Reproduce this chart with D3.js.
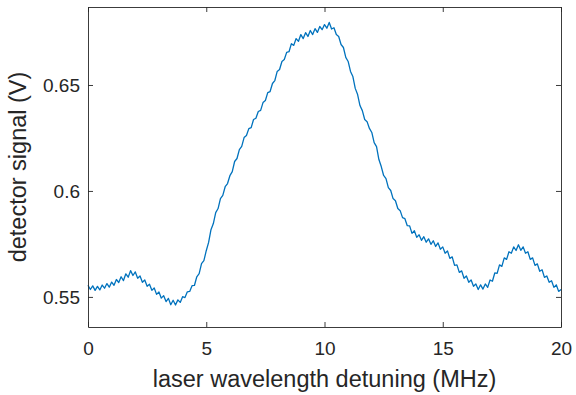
<!DOCTYPE html>
<html>
<head>
<meta charset="utf-8">
<script src="https://cdn.jsdelivr.net/npm/d3@7"></script>
<style>
  body { margin: 0; background: #fff; }
  text { font-family: "Liberation Sans", Arial, sans-serif; fill: #262626; }
</style>
</head>
<body>
<div id="chart"></div>
<script>
// detuning in MHz, sampled every 0.1 MHz from 0 to 20
var x_start = 0;
var x_step = 0.1;

// detector signal (V)
var signal = [
    0.5555,0.5535,0.5552,0.5531,0.5550,0.5533,0.5556,0.5541,0.5563,0.5546,
    0.5570,0.5555,0.5582,0.5568,0.5595,0.5577,0.5609,0.5593,0.5624,0.5601,
    0.5618,0.5588,0.5599,0.5569,0.5580,0.5550,0.5560,0.5531,0.5542,0.5512,
    0.5523,0.5494,0.5506,0.5478,0.5493,0.5463,0.5484,0.5462,0.5486,0.5474,
    0.5501,0.5497,0.5524,0.5526,0.5553,0.5554,0.5595,0.5610,0.5657,0.5671,
    0.5718,0.5757,0.5817,0.5846,0.5898,0.5917,0.5964,0.5979,0.6020,0.6035,
    0.6072,0.6091,0.6139,0.6153,0.6195,0.6210,0.6252,0.6262,0.6294,0.6299,
    0.6337,0.6343,0.6375,0.6380,0.6417,0.6427,0.6464,0.6469,0.6507,0.6521,
    0.6564,0.6573,0.6611,0.6620,0.6654,0.6657,0.6695,0.6687,0.6719,0.6706,
    0.6738,0.6719,0.6747,0.6729,0.6757,0.6738,0.6766,0.6748,0.6776,0.6761,
    0.6785,0.6768,0.6795,0.6764,0.6770,0.6738,0.6729,0.6691,0.6677,0.6630,
    0.6611,0.6564,0.6540,0.6484,0.6455,0.6403,0.6379,0.6337,0.6327,0.6295,
    0.6276,0.6228,0.6209,0.6148,0.6115,0.6073,0.6058,0.6016,0.6002,0.5964,
    0.5954,0.5917,0.5907,0.5874,0.5869,0.5836,0.5835,0.5800,0.5812,0.5781,
    0.5793,0.5767,0.5784,0.5758,0.5774,0.5748,0.5765,0.5738,0.5755,0.5725,
    0.5736,0.5706,0.5717,0.5682,0.5689,0.5649,0.5651,0.5616,0.5623,0.5588,
    0.5599,0.5569,0.5580,0.5550,0.5561,0.5535,0.5557,0.5537,0.5561,0.5545,
    0.5580,0.5574,0.5613,0.5611,0.5651,0.5644,0.5684,0.5677,0.5713,0.5706,
    0.5736,0.5719,0.5746,0.5720,0.5736,0.5706,0.5713,0.5677,0.5684,0.5649,
    0.5656,0.5621,0.5628,0.5592,0.5599,0.5569,0.5576,0.5545,0.5557,0.5526,
    0.5535
];

var x_ticks = [0, 5, 10, 15, 20];
var y_ticks = [0.55, 0.6, 0.65];
var x_domain = [0, 20];
var y_domain = [0.5358, 0.6868];

var chart_width = 576;
var chart_height = 395;
var margin = {top: 7, right: 15, bottom: 68, left: 88};
var plot_w = chart_width - margin.left - margin.right;
var plot_h = chart_height - margin.top - margin.bottom;

var svg = d3.select('#chart')
    .append('svg')
    .attr('width', chart_width)
    .attr('height', chart_height);

var g = svg.append('g')
    .attr('transform', 'translate(' + margin.left + ',' + margin.top + ')');

var x_scale = d3.scaleLinear().domain(x_domain).range([0, plot_w]);
var y_scale = d3.scaleLinear().domain(y_domain).range([plot_h, 0]);

// trace
var line = d3.line()
    .x(function(d, i) { return x_scale(x_start + i * x_step); })
    .y(function(d) { return y_scale(d); });

g.append('path')
    .datum(signal)
    .attr('d', line)
    .attr('fill', 'none')
    .attr('stroke', '#0072BD')
    .attr('stroke-width', 1.3)
    .attr('stroke-linejoin', 'round');

// axes with inward ticks, box on all four sides
function style_axis(sel) {
    sel.select('.domain').attr('stroke', '#262626').attr('stroke-width', 0.9);
    sel.selectAll('.tick line').attr('stroke', '#262626').attr('stroke-width', 0.9);
    sel.selectAll('.tick text').attr('fill', '#262626').attr('font-size', 19)
        .attr('font-family', '"Liberation Sans", Arial, sans-serif');
}

g.append('g')
    .attr('transform', 'translate(0,' + plot_h + ')')
    .call(d3.axisBottom(x_scale).tickValues(x_ticks).tickSize(-5).tickSizeOuter(0)
        .tickPadding(15).tickFormat(d3.format('d')))
    .call(style_axis);

g.append('g')
    .call(d3.axisTop(x_scale).tickValues(x_ticks).tickSize(-5).tickSizeOuter(0).tickFormat(''))
    .call(style_axis);

g.append('g')
    .call(d3.axisLeft(y_scale).tickValues(y_ticks).tickSize(-5).tickSizeOuter(0)
        .tickPadding(8).tickFormat(function(d) { return String(+d.toFixed(2)); }))
    .call(style_axis);

g.append('g')
    .attr('transform', 'translate(' + plot_w + ',0)')
    .call(d3.axisRight(y_scale).tickValues(y_ticks).tickSize(-5).tickSizeOuter(0).tickFormat(''))
    .call(style_axis);

// axis titles
svg.append('text')
    .attr('x', margin.left + plot_w / 2)
    .attr('y', 387)
    .attr('text-anchor', 'middle')
    .attr('font-size', 23.5)
    .text('laser wavelength detuning (MHz)');

svg.append('text')
    .attr('transform', 'translate(26,' + (margin.top + plot_h / 2) + ') rotate(-90)')
    .attr('text-anchor', 'middle')
    .attr('font-size', 23.5)
    .text('detector signal (V)');
</script>
</body>
</html>
